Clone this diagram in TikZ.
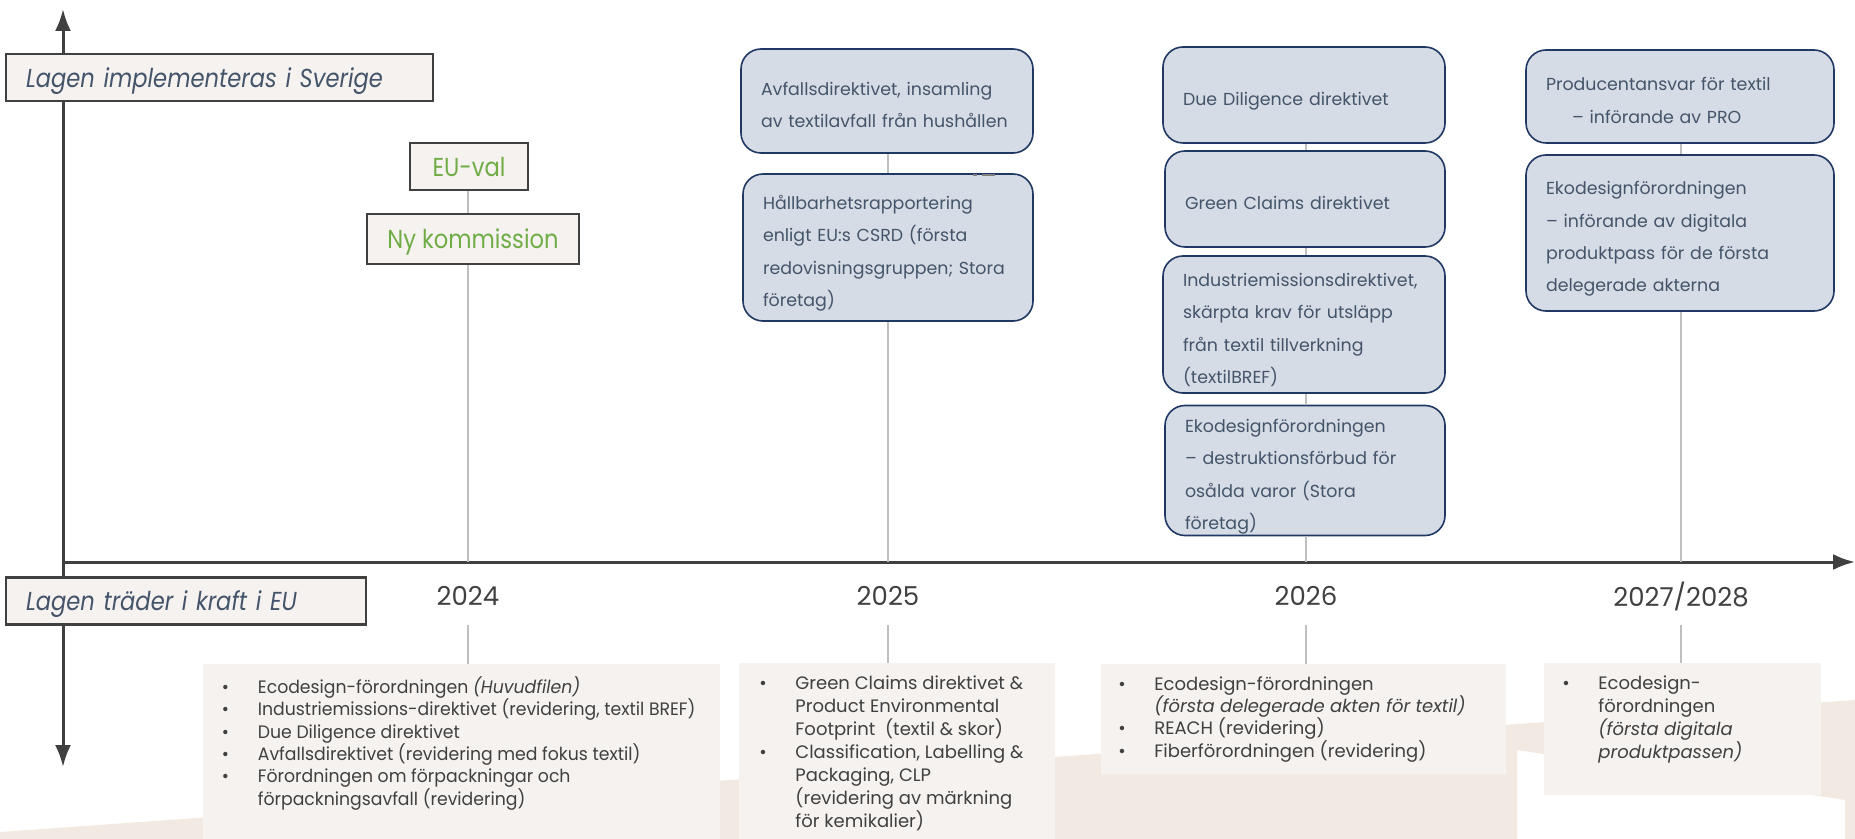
\documentclass[tikz,border=0pt]{standalone}
\usepackage{fontspec}
\setmainfont{Poppins}
\newfontfamily\condfont[FakeStretch=0.87]{Poppins}
\newfontfamily\smalfont[FakeStretch=0.96]{Poppins}
\usetikzlibrary{arrows.meta}

\definecolor{axisgray}{HTML}{404040}
\definecolor{linegray}{HTML}{BFBFBF}
\definecolor{paper}{HTML}{F5F2EF}
\definecolor{sand}{HTML}{F2EAE2}
\definecolor{slatefill}{HTML}{D6DCE5}
\definecolor{navy}{HTML}{203864}
\definecolor{slatetext}{HTML}{44546A}
\definecolor{leafgreen}{HTML}{70AD47}

\newcommand{\pkt}[1]{\par\noindent\hangindent=18pt\hangafter=1\makebox[18pt][l]{\textbullet}#1}

\begin{document}
\begin{tikzpicture}[x=0.5pt, y=-0.5pt,
    lagbox/.style={draw=axisgray, line width=1.2pt, fill=paper, text=slatetext, align=left, text depth=0pt,
        inner xsep=10pt, minimum height=23.5pt, font=\condfont\itshape\fontsize{13}{15}\selectfont},
    greenbox/.style={draw=axisgray, line width=1.2pt, fill=paper, text=leafgreen, text depth=0pt,
        font=\condfont\fontsize{13}{15}\selectfont},
    blob/.style={draw=navy, line width=0.8pt, fill=slatefill, text=slatetext, rounded corners=10pt,
        align=left, inner xsep=10pt, inner ysep=0pt, font=\fontsize{8.7}{16.2}\selectfont,
        execute at begin node={\rule{0pt}{13.4pt}}, execute at end node={\rule[-3pt]{0pt}{3pt}}},
    notebox/.style={fill=paper, text=axisgray, inner xsep=10pt, inner ysep=6pt},
    yearlbl/.style={text=axisgray, inner sep=0pt, minimum height=29pt, font=\fontsize{13}{15}\selectfont},
    tick/.style={linegray, line width=0.8pt},
    axis/.style={axisgray, line width=1.5pt}]
    \useasboundingbox (0,0) rectangle (1855,839);
    \fill[sand] (0,839) -- (0,832) -- (1855,700) -- (1855,839) -- (1845,839) -- (1845,800) -- (1517,750) -- (1517,839) -- cycle;

    \coordinate (ytop) at (63,9);
    \coordinate (ybot) at (63,767);
    \coordinate (origin) at (63,562);
    \coordinate (xend) at (1855,562);
    \coordinate (a24) at (468,562);
    \coordinate (a25) at (888,562);
    \coordinate (a26) at (1306,562);
    \coordinate (a27) at (1681,562);
    \draw[axis, {Latex[length=11pt,width=8pt]}-{Latex[length=11pt,width=8pt]}] (ytop) -- (ybot);
    \draw[axis, -{Latex[length=11pt,width=8pt]}] (origin) -- (xend);

    \node[lagbox, text width=193.5pt] (sverige) at (219.5,77.5) {Lagen implementeras i Sverige};
    \node[lagbox, text width=160pt] (ikraft) at (186,601) {Lagen träder i kraft i EU};

    % 2024
    \node[greenbox, minimum width=59pt, minimum height=23.5pt] (euval) at (469,166.5) {EU-val};
    \node[greenbox, minimum width=106pt, minimum height=25pt] (nykom) at (473,239) {Ny kommission};
    \node[yearlbl] (y24) at (468,596) {2024};
    \node[notebox, anchor=north west, inner xsep=9.25pt] (b24) at (203,664) {\parbox[t][76pt][t]{240pt}{\smalfont\fontsize{9}{11.2}\selectfont
        \pkt{Ecodesign-förordningen \textit{(Huvudfilen)}}
        \pkt{Industriemissions-direktivet (revidering, textil BREF)}
        \pkt{Due Diligence direktivet}
        \pkt{Avfallsdirektivet (revidering med fokus textil)}
        \pkt{Förordningen om förpackningar och\\förpackningsavfall (revidering)}}};

    % 2025
    \node[blob, text width=126pt, minimum height=52pt] (avf) at (887,101) {Avfallsdirektivet, insamling\\av textilavfall från hushållen};
    \node[blob, text width=125pt, minimum height=73.5pt] (hall) at (888,247.5) {Hållbarhetsrapportering\\enligt EU:s CSRD (första\\redovisningsgruppen; Stora\\företag)};
    \node[yearlbl] (y25) at (888,596) {2025};
    \node[notebox, anchor=north west] (b25) at (739,663) {\parbox[t][76pt][t]{138pt}{\fontsize{9}{11.5}\selectfont
        \pkt{Green Claims direktivet \&\\Product Environmental\\Footprint~ (textil \& skor)}
        \pkt{Classification, Labelling \&\\Packaging, CLP\\(revidering av märkning\\för kemikalier)}}};

    % 2026
    \node[blob, text width=121pt, minimum height=48pt] (due) at (1304,95) {Due Diligence direktivet};
    \node[blob, text width=120pt, minimum height=48pt] (green) at (1305,199) {Green Claims direktivet};
    \node[blob, text width=121pt, minimum height=68.5pt] (ind) at (1304,324.5) {Industriemissionsdirektivet,\\skärpta krav för utsläpp\\från textil tillverkning\\(textilBREF)};
    \node[blob, text width=120pt, minimum height=64.5pt] (eko26) at (1305,470.5) {Ekodesignförordningen\\– destruktionsförbud för\\osålda varor (Stora\\företag)};
    \node[yearlbl] (y26) at (1306,596) {2026};
    \node[notebox, anchor=north west, inner xsep=8.5pt] (b26) at (1101,664) {\parbox[t][43pt][t]{185.5pt}{\fontsize{9}{11.2}\selectfont
        \pkt{Ecodesign-förordningen\\\textit{(första delegerade akten för textil)}}
        \pkt{REACH (revidering)}
        \pkt{Fiberförordningen (revidering)}}};

    % 2027/2028
    \node[blob, text width=134pt, minimum height=46.5pt] (prod) at (1680,96.5) {Producentansvar för textil\\\hspace*{13pt}– införande av PRO};
    \node[blob, text width=134pt, minimum height=78pt] (eko27) at (1680,233) {Ekodesignförordningen\\– införande av digitala\\produktpass för de första\\delegerade akterna};
    \node[yearlbl] (y27) at (1681,596) {2027/2028};
    \node[notebox, anchor=north west, inner xsep=9pt] (b27) at (1544,663) {\parbox[t][54pt][t]{120.5pt}{\fontsize{9}{11.5}\selectfont
        \pkt{Ecodesign-\\förordningen\\\textit{(första digitala\\produktpassen)}}}};

    % connectors
    \draw[tick] (a24 |- euval.south) -- (a24 |- nykom.north);
    \draw[tick] (a24 |- nykom.south) -- (a24);
    \draw[tick] (y24.south) -- (y24.south |- b24.north);
    \draw[tick] (a25 |- avf.south) -- (a25 |- hall.north);
    \draw[tick] (a25 |- hall.south) -- (a25);
    \draw[tick] (y25.south) -- (y25.south |- b25.north);
    \draw[tick] (a26 |- due.south) -- (a26 |- green.north);
    \draw[tick] (a26 |- green.south) -- (a26 |- ind.north);
    \draw[tick] (a26 |- ind.south) -- (a26 |- eko26.north);
    \draw[tick] (a26 |- eko26.south) -- (a26);
    \draw[tick] (y26.south) -- (y26.south |- b26.north);
    \draw[tick] (a27 |- prod.south) -- (a27 |- eko27.north);
    \draw[tick] (a27 |- eko27.south) -- (a27);
    \draw[tick] (y27.south) -- (y27.south |- b27.north);
    \draw[gray, line width=1pt] (973,175) -- (977,175) (982,175) -- (995,175);
\end{tikzpicture}
\end{document}
